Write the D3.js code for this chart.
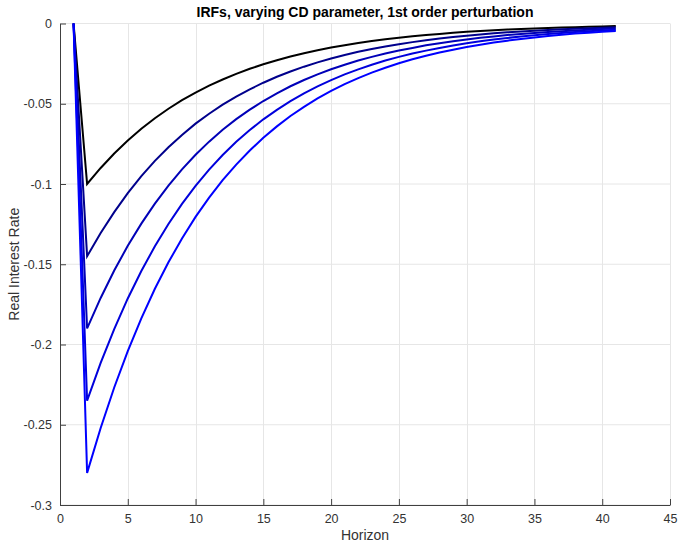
<!DOCTYPE html>
<html>
<head>
<meta charset="utf-8">
<script src="https://cdn.jsdelivr.net/npm/d3@7"></script>
<style>
  html, body { margin: 0; padding: 0; background: #fff; }
  svg { display: block; font-family: "Liberation Sans", Arial, Helvetica, sans-serif; }
</style>
</head>
<body>
<div id="chart"></div>
<script>
// Horizon (1..41)
const horizon = d3.range(1, 42);

// IRF values (one series per CD parameter value)
const series1 = [0, -0.1, -0.09, -0.081, -0.0729, -0.0656, -0.0590, -0.0531, -0.0478, -0.0430, -0.0387, -0.0349, -0.0314, -0.0282, -0.0254, -0.0229, -0.0206, -0.0185, -0.0167, -0.0150, -0.0135, -0.0122, -0.0109, -0.0098, -0.0089, -0.0080, -0.0072, -0.0065, -0.0058, -0.0052, -0.0047, -0.0042, -0.0038, -0.0034, -0.0031, -0.0028, -0.0025, -0.0023, -0.0020, -0.0018, -0.0016];
const series2 = [0, -0.145, -0.1305, -0.1175, -0.1057, -0.0951, -0.0856, -0.0771, -0.0694, -0.0624, -0.0562, -0.0506, -0.0455, -0.0410, -0.0369, -0.0332, -0.0299, -0.0269, -0.0242, -0.0218, -0.0196, -0.0176, -0.0159, -0.0143, -0.0129, -0.0116, -0.0104, -0.0094, -0.0084, -0.0076, -0.0068, -0.0061, -0.0055, -0.0050, -0.0045, -0.0040, -0.0036, -0.0033, -0.0029, -0.0026, -0.0024];
const series3 = [0, -0.19, -0.171, -0.1539, -0.1385, -0.1247, -0.1122, -0.1010, -0.0909, -0.0818, -0.0736, -0.0662, -0.0596, -0.0537, -0.0483, -0.0435, -0.0391, -0.0352, -0.0317, -0.0285, -0.0257, -0.0231, -0.0208, -0.0187, -0.0168, -0.0152, -0.0136, -0.0123, -0.0110, -0.0099, -0.0089, -0.0081, -0.0072, -0.0065, -0.0059, -0.0053, -0.0048, -0.0043, -0.0039, -0.0035, -0.0031];
const series4 = [0, -0.235, -0.2115, -0.1904, -0.1713, -0.1542, -0.1388, -0.1249, -0.1124, -0.1012, -0.0910, -0.0819, -0.0737, -0.0664, -0.0597, -0.0538, -0.0484, -0.0435, -0.0392, -0.0353, -0.0317, -0.0286, -0.0257, -0.0231, -0.0208, -0.0187, -0.0169, -0.0152, -0.0137, -0.0123, -0.0111, -0.0100, -0.0090, -0.0081, -0.0073, -0.0065, -0.0059, -0.0053, -0.0048, -0.0043, -0.0039];
const series5 = [0, -0.28, -0.252, -0.2268, -0.2041, -0.1837, -0.1653, -0.1488, -0.1339, -0.1205, -0.1085, -0.0976, -0.0879, -0.0791, -0.0712, -0.0641, -0.0576, -0.0519, -0.0467, -0.0420, -0.0378, -0.0340, -0.0306, -0.0276, -0.0248, -0.0223, -0.0201, -0.0181, -0.0163, -0.0147, -0.0132, -0.0119, -0.0107, -0.0096, -0.0087, -0.0078, -0.0070, -0.0063, -0.0057, -0.0051, -0.0046];

const allSeries = [series1, series2, series3, series4, series5];
const seriesColors = ["#000000", "#00008c", "#0000b8", "#0000dc", "#0000ff"];

const xTicks = [0, 5, 10, 15, 20, 25, 30, 35, 40, 45];
const yTicks = [0, -0.05, -0.1, -0.15, -0.2, -0.25, -0.3];
const yTickLabels = ["0", "-0.05", "-0.1", "-0.15", "-0.2", "-0.25", "-0.3"];

const titleText = "IRFs, varying CD parameter, 1st order perturbation";
const xLabel = "Horizon";
const yLabel = "Real Interest Rate";

const W = 681, H = 543;
const margin = { left: 60, right: 11, top: 23.5, bottom: 38 };
const iw = W - margin.left - margin.right;
const ih = H - margin.top - margin.bottom;

const svg = d3.select("#chart").append("svg").attr("width", W).attr("height", H);
const g = svg.append("g").attr("transform", `translate(${margin.left},${margin.top})`);

const x = d3.scaleLinear().domain([0, 45]).range([0, iw]);
const y = d3.scaleLinear().domain([-0.3, 0]).range([ih, 0]);

// grid
g.append("g").selectAll("line.vx").data(xTicks).join("line")
  .attr("x1", d => Math.round(x(d)) + 0.5).attr("x2", d => Math.round(x(d)) + 0.5)
  .attr("y1", 0).attr("y2", ih)
  .attr("stroke", "#e6e6e6").attr("stroke-width", 1);
g.append("g").selectAll("line.hy").data(yTicks).join("line")
  .attr("y1", d => y(d)).attr("y2", d => y(d))
  .attr("x1", 0).attr("x2", iw)
  .attr("stroke", "#e6e6e6").attr("stroke-width", 1);

// axes
const xAxis = d3.axisBottom(x).tickValues(xTicks).tickSizeInner(-6).tickSizeOuter(0).tickPadding(9);
const yAxis = d3.axisLeft(y).tickValues(yTicks).tickSizeInner(-6).tickSizeOuter(0).tickPadding(8)
  .tickFormat((d, i) => yTickLabels[i]);

const gx = g.append("g").attr("transform", `translate(0,${ih})`).call(xAxis);
const gy = g.append("g").call(yAxis);
[gx, gy].forEach(ax => {
  ax.select(".domain").attr("stroke", "#404040").attr("stroke-width", 1);
  ax.selectAll(".tick line").attr("stroke", "#404040");
  ax.selectAll(".tick text").attr("fill", "#333").style("font-size", "12.5px")
    .style("font-family", "'Liberation Sans', Arial, sans-serif");
});

// lines
const line = d3.line().x((d, i) => x(horizon[i])).y(d => y(d));
g.append("g").selectAll("path.s").data(allSeries).join("path")
  .attr("d", d => line(d))
  .attr("fill", "none")
  .attr("stroke", (d, i) => seriesColors[i])
  .attr("stroke-width", 2)
  .attr("stroke-linejoin", "miter");

// title & labels
svg.append("text").attr("x", margin.left + iw / 2).attr("y", 17)
  .attr("text-anchor", "middle").attr("font-weight", "bold")
  .style("font-size", "14px").attr("fill", "#000").text(titleText);
svg.append("text").attr("x", margin.left + iw / 2).attr("y", 540)
  .attr("text-anchor", "middle").style("font-size", "14px").attr("fill", "#333").text(xLabel);
svg.append("text").attr("transform", `translate(19,${margin.top + ih / 2}) rotate(-90)`)
  .attr("text-anchor", "middle").style("font-size", "14px").attr("fill", "#333").text(yLabel);
</script>
</body>
</html>
